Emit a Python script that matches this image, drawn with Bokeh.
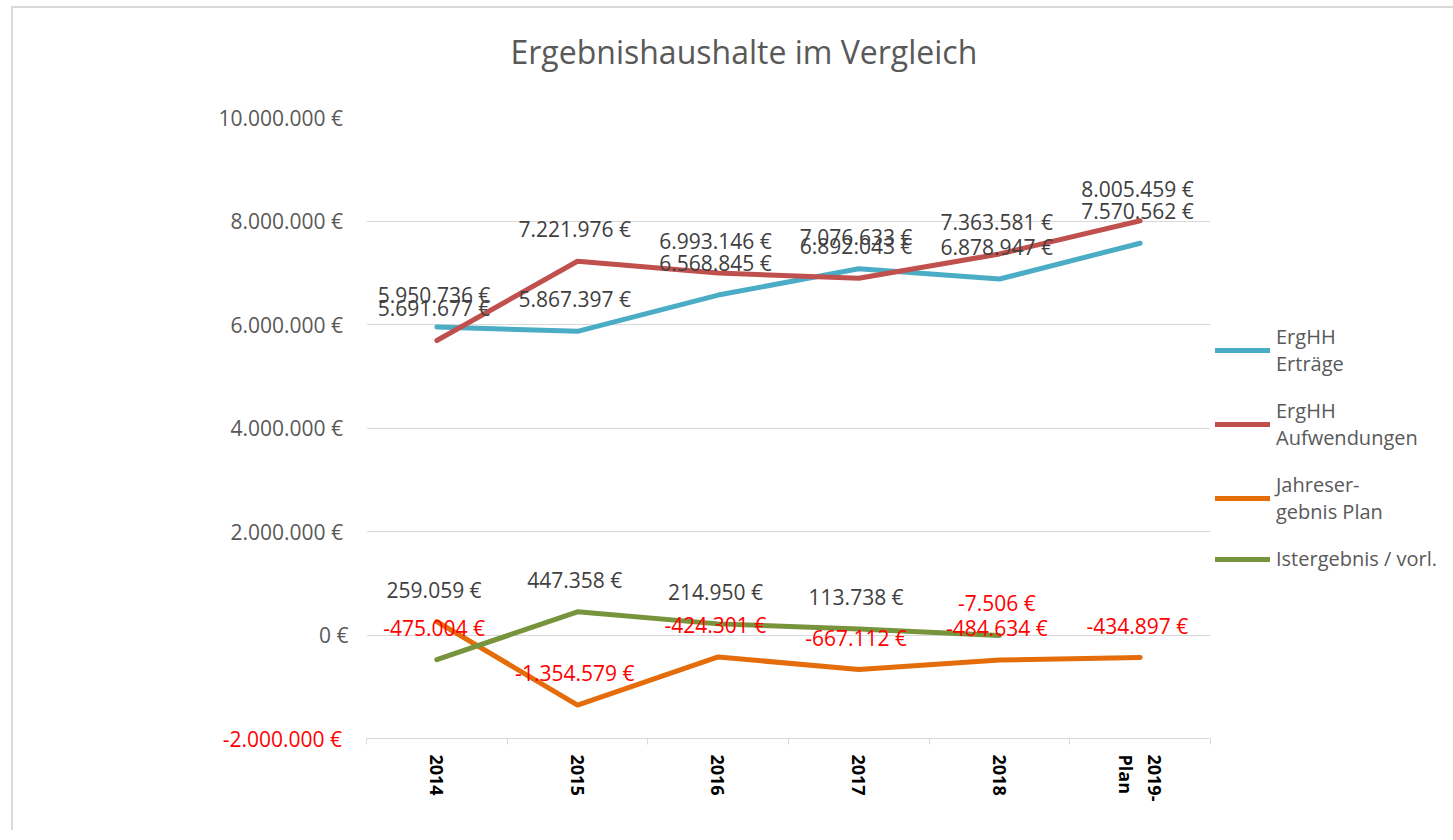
import math
from bokeh.plotting import figure
from bokeh.models import (Range1d, FixedTicker, Legend, LegendItem, ColumnDataSource, LinearAxis, Title)
from bokeh.embed import file_html
from bokeh.resources import INLINE
from bokeh.core.properties import value

# ---------------- data ----------------
categories = ["2014", "2015", "2016", "2017", "2018", "2019-\nPlan"]
ertraege = [5950736, 5867397, 6568845, 7076633, 6878947, 7570562]
aufwendungen = [5691677, 7221976, 6993146, 6892043, 7363581, 8005459]
jahresergebnis_plan = [259059, -1354579, -424301, -667112, -484634, -434897]
istergebnis = [-475004, 447358, 214950, 113738, -7506, None]
series_names = ["ErgHH\nErträge", "ErgHH\nAufwendungen", "Jahreser-\ngebnis Plan", "Istergebnis / vorl."]
series_colors = ["#4BACC6", "#C0504D", "#E46C0A", "#77933C"]
y_ticks = [-2000000, 0, 2000000, 4000000, 6000000, 8000000, 10000000]
title_text = "Ergebnishaushalte  im Vergleich"

FONT = "Open Sans"


def eur(v):
    if v == 0:
        return "0 €"
    s = f"{abs(v):,}".replace(",", ".")
    return ("-" if v < 0 else "") + s + "  €"


n = len(categories)
xpos = [i + 0.5 for i in range(n)]

p = figure(frame_width=844, frame_height=621, title=None,
           x_range=Range1d(0, n), y_range=Range1d(y_ticks[0], y_ticks[-1]),
           output_backend="svg", toolbar_location=None,
           min_border_left=353, min_border_right=228,
           min_border_top=109, min_border_bottom=92)
p.styles = {"border-left": "2px solid #D9D9D9", "border-top": "2px solid #D9D9D9",
            "margin-left": "11px", "margin-top": "6px"}
p.outline_line_color = None
p.background_fill_color = "white"
p.border_fill_color = "white"

# spacer between frame and title, then the title itself
p.add_layout(Title(text=" ", text_font_size="1px", standoff=23), "above")
p.add_layout(Title(text=title_text, align="left", offset=144, standoff=38,
                   text_font=FONT, text_font_size="32px", text_font_style="normal",
                   text_color="#595959"), "above")

# grid
p.xgrid.visible = False
p.ygrid.ticker = FixedTicker(ticks=y_ticks)
p.ygrid.grid_line_color = "#D9D9D9"
p.ygrid.grid_line_width = 1

# y axis (grey labels)
yax = p.yaxis[0]
yax.ticker = FixedTicker(ticks=y_ticks)
yax.axis_line_color = None
yax.major_tick_line_color = None
yax.minor_tick_line_color = None
yax.major_tick_out = 0
yax.major_tick_in = 0
yax.major_label_standoff = 18
yax.major_label_text_font = FONT
yax.major_label_text_font_size = "21px"
yax.major_label_text_color = "#595959"
yax.major_label_overrides = {t: ("" if t < 0 else eur(t)) for t in y_ticks}

# second left axis carrying only the negative (red) tick label
neg_ticks = [t for t in y_ticks if t < 0]
red_ax = LinearAxis(ticker=FixedTicker(ticks=neg_ticks),
                    major_label_overrides={t: eur(t) for t in neg_ticks})
red_ax.axis_line_color = None
red_ax.major_tick_line_color = None
red_ax.minor_tick_line_color = None
red_ax.major_tick_out = 0
red_ax.major_tick_in = 0
red_ax.major_label_standoff = -132
red_ax.major_label_text_font = FONT
red_ax.major_label_text_font_size = "21px"
red_ax.major_label_text_color = "#FF0000"
p.add_layout(red_ax, "left")

# x axis
xax = p.xaxis[0]
xax.ticker = FixedTicker(ticks=xpos, minor_ticks=list(range(n + 1)))
xax.major_label_overrides = {x: c for x, c in zip(xpos, categories)}
xax.axis_line_color = "#D9D9D9"
xax.axis_line_width = 1
xax.major_tick_line_color = None
xax.major_tick_out = 0
xax.major_tick_in = 0
xax.minor_tick_line_color = "#D9D9D9"
xax.minor_tick_out = 6
xax.minor_tick_in = 0
xax.major_label_orientation = -math.pi / 2
xax.major_label_standoff = 10
xax.major_label_text_font = FONT
xax.major_label_text_font_size = "18px"
xax.major_label_text_font_style = "bold"
xax.major_label_text_color = "#000000"

# lines
all_series = [ertraege, aufwendungen, jahresergebnis_plan, istergebnis]
items = []
for name, col, ser in zip(series_names, series_colors, all_series):
    xs = [x for x, v in zip(xpos, ser) if v is not None]
    ys = [v for v in ser if v is not None]
    r = p.line(xs, ys, line_width=5, line_color=col, line_cap="round", line_join="round")
    items.append(LegendItem(label=name, renderers=[r]))

# data labels
for ser in all_series:
    xs = [x for x, v in zip(xpos, ser) if v is not None]
    ys = [v for v in ser if v is not None]
    src = ColumnDataSource(dict(
        x=xs, y=ys,
        t=[eur(v) for v in ys],
        c=["#FF0000" if v < 0 else "#404040" for v in ys]))
    p.text(x="x", y="y", text="t", source=src, text_color="c",
           text_align="center", text_baseline="middle", y_offset=-32,
           text_font=value(FONT), text_font_size="21px")

legend = Legend(items=items, location=(5, 166))
legend.padding = 0
legend.margin = 0
legend.border_line_color = None
legend.background_fill_alpha = 0
legend.label_text_font = FONT
legend.label_text_font_size = "20px"
legend.label_text_color = "#595959"
legend.label_text_line_height = 1.5
legend.glyph_width = 55
legend.label_standoff = 6
legend.spacing = 20
p.add_layout(legend, "right")

open("out.html", "w").write(file_html(p, INLINE))
